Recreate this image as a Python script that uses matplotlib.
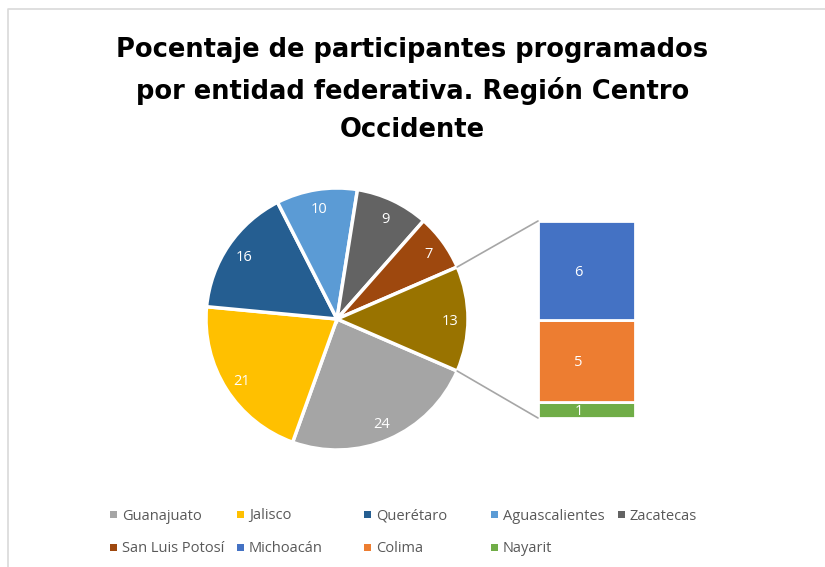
import matplotlib
matplotlib.use("Agg")
import matplotlib.pyplot as plt
from matplotlib.patches import ConnectionPatch, Rectangle
import numpy as np

# ---- data ----
pie_labels = ["Guanajuato", "Jalisco", "Querétaro", "Aguascalientes", "Zacatecas", "San Luis Potosí", "Otros"]
pie_values = [24, 21, 16, 10, 9, 7, 13]
pie_colors = ["#A5A5A5", "#FFC000", "#255E91", "#5B9BD5", "#636363", "#9E480E", "#997300"]

bar_labels = ["Nayarit", "Colima", "Michoacán"]
bar_values = [1, 5, 6]
bar_colors = ["#70AD47", "#ED7D31", "#4472C4"]

legend_names = ["Guanajuato", "Jalisco", "Querétaro", "Aguascalientes", "Zacatecas",
                "San Luis Potosí", "Michoacán", "Colima", "Nayarit"]
legend_colors = ["#A5A5A5", "#FFC000", "#255E91", "#5B9BD5", "#636363",
                 "#9E480E", "#4472C4", "#ED7D31", "#70AD47"]

title = "Pocentaje de participantes programados\npor entidad federativa. Región Centro\nOccidente"

W, H = 825, 567
fig = plt.figure(figsize=(W / 100, H / 100), dpi=100)
ax = fig.add_axes([0, 0, 1, 1])

cx, cy, r = 337, H - 319, 131
total = sum(pie_values)
other_angle = pie_values[-1] / total * 360
start = -other_angle / 2

wedges, texts, autotexts = ax.pie(
    pie_values, colors=pie_colors, center=(cx, cy), radius=r,
    startangle=start, counterclock=False,
    autopct=lambda p: f"{p * total / 100:.0f}", pctdistance=0.86,
    wedgeprops=dict(edgecolor="white", linewidth=2.5),
    textprops=dict(color="white", fontsize=10.5, family=["Open Sans", "DejaVu Sans"]))
for t in autotexts:
    t.set_va("center_baseline")
ax.set_xlim(0, W)
ax.set_ylim(0, H)
ax.set_aspect("equal")
ax.axis("off")

# border
ax.plot([8, 8, W], [0, H - 9, H - 9], color="#D9D9D9", lw=1.2, solid_capstyle="butt")

# bar of pie
bx0, bx1, by0, by1 = 538, 635, 418, 221
ax2 = fig.add_axes([bx0 / W, (H - by0) / H, (bx1 - bx0) / W, (by0 - by1) / H])
bottom = 0
for v, c in zip(bar_values, bar_colors):
    ax2.bar(0, v, width=1, bottom=bottom, color=c, edgecolor="white", linewidth=2, zorder=1)
    bottom += v
bottom = 0
for v in bar_values:
    ax2.text(-0.08, bottom + v / 2, f"{v}", color="white", ha="center", va="center_baseline",
             fontsize=10.5, family=["Open Sans", "DejaVu Sans"], zorder=5)
    bottom += v
ax2.set_xlim(-0.5, 0.5)
ax2.set_ylim(0, sum(bar_values))
ax2.axis("off")

# connector lines
a_up = np.deg2rad(other_angle / 2)
p_up = (cx + r * np.cos(a_up), cy + r * np.sin(a_up))
p_dn = (cx + r * np.cos(-a_up), cy + r * np.sin(-a_up))
for p, yb in [(p_up, sum(bar_values)), (p_dn, 0)]:
    con = ConnectionPatch(xyA=p, coordsA=ax.transData, xyB=(-0.5, yb), coordsB=ax2.transData,
                          color="#A6A6A6", lw=1.2)
    fig.add_artist(con)

# title
ax.text(W / 2 + 0, H - 90, title, ha="center", va="center", fontsize=18.5, fontweight="bold",
        family=["DejaVu Sans"], linespacing=1.6, color="#000000")

# legend
for i, (name, col) in enumerate(zip(legend_names, legend_colors)):
    c, rw = i % 5, i // 5
    x = 113 + 127 * c
    y = H - (514 + 33 * rw)
    ax.add_patch(Rectangle((x - 3.5, y - 3.5), 7, 7, color=col, lw=0))
    ax.text(x + 9, y, name, ha="left", va="center_baseline", fontsize=10.5, color="#595959",
            family=["Open Sans", "DejaVu Sans"])

fig.savefig("out.png", dpi=100)
